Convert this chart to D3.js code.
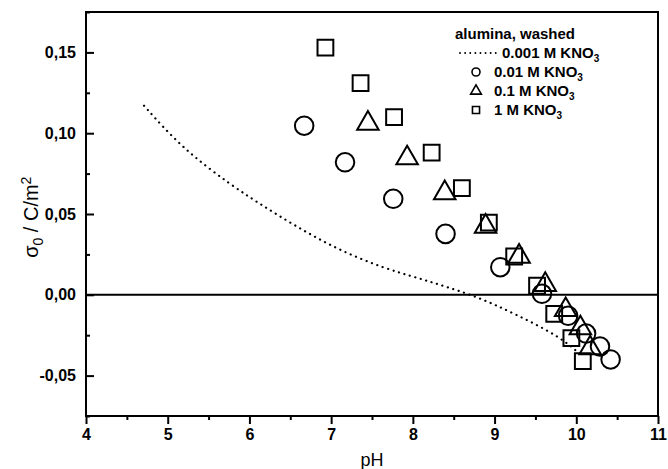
<!DOCTYPE html>
<html>
<head>
  <style>
    body, html { margin: 0; padding: 0; background: #fff; }
    text { font-family: "Liberation Sans", Arial, sans-serif; }
  </style>
</head>
<body>
<svg id="svg" width="668" height="469"></svg>
<script src="https://d3js.org/d3.v7.min.js"></script>
<script>
  // 0.001 M KNO3 model curve (dotted)
  const dotted = [[4.71, 0.117], [5.17, 0.091], [5.77, 0.068], [6.24, 0.0526], [6.70, 0.0385],
    [7.13, 0.027], [7.64, 0.0165], [8.09, 0.0100], [8.29, 0.0068], [8.78, -0.001],
    [9.23, -0.0113], [9.80, -0.0258], [10.05, -0.037]]
  // 0.01 M KNO3
  const circles = [[6.67, 0.1046], [7.17, 0.082], [7.76, 0.0594], [8.40, 0.0377], [9.07, 0.0171],
    [9.58, 0.0006], [9.90, -0.013], [10.12, -0.024], [10.29, -0.032], [10.42, -0.040]]
  // 0.1 M KNO3
  const triangles = [[7.45, 0.106], [7.93, 0.0846], [8.39, 0.063], [8.89, 0.0423], [9.30, 0.0237],
    [9.62, 0.0062], [9.87, -0.0093], [10.05, -0.0206], [10.17, -0.033]]
  // 1 M KNO3
  const squares = [[6.93, 0.153], [7.36, 0.131], [7.77, 0.110], [8.23, 0.088], [8.60, 0.066],
    [8.93, 0.0447], [9.24, 0.0237], [9.52, 0.0056], [9.73, -0.0118], [9.94, -0.0268], [10.08, -0.041]]

  const xTicks = [4, 5, 6, 7, 8, 9, 10, 11]
  const yTicks = [-0.05, 0, 0.05, 0.10, 0.15]
  const legendLabels = ["0.001 M KNO", "0.01 M KNO", "0.1 M KNO", "1 M KNO"]

  const L = 86, R = 658, T = 12, B = 416
  const svg = d3.select("#svg")

  const x = d3.scaleLinear().domain([4, 11]).range([L, R])
  const y = d3.scaleLinear().domain([-0.075, 0.175]).range([B, T])

  const fmt = d => d3.format(".2f")(d).replace(".", ",").replace("\u2212", "-")

  // frame
  svg.append("rect")
    .attr("x", L).attr("y", T).attr("width", R - L).attr("height", B - T)
    .attr("fill", "none").attr("stroke", "#000").attr("stroke-width", 2)

  // zero line
  svg.append("line")
    .attr("x1", L).attr("x2", R).attr("y1", y(0)).attr("y2", y(0))
    .attr("stroke", "#000").attr("stroke-width", 2)

  // x axis (ticks outward)
  const xAxis = svg.append("g").attr("transform", `translate(0,${B})`)
  xAxis.call(d3.axisBottom(x).tickValues(d3.range(4.5, 11, 1)).tickSize(4).tickFormat(""))
  xAxis.call(g => g.append("g").call(d3.axisBottom(x).tickValues(xTicks).tickSize(8).tickPadding(5).tickFormat(d3.format("d"))))
  xAxis.selectAll(".domain").remove()
  xAxis.selectAll("line").attr("stroke-width", 2)
  xAxis.selectAll("text").attr("font-size", 16).attr("font-weight", "bold").attr("fill", "#000")

  // y axis (ticks inward)
  const yAxis = svg.append("g").attr("transform", `translate(${L},0)`)
  yAxis.call(d3.axisRight(y).tickValues(d3.range(-0.075, 0.176, 0.05)).tickSize(4).tickFormat(""))
  yAxis.call(g => g.append("g").call(d3.axisRight(y).tickValues(yTicks).tickSize(8).tickFormat(fmt)))
  yAxis.selectAll(".domain").remove()
  yAxis.selectAll("line").attr("stroke-width", 2)
  yAxis.selectAll("text")
    .attr("x", -10).attr("text-anchor", "end")
    .attr("font-size", 16).attr("font-weight", "bold").attr("fill", "#000")

  // axis titles
  svg.append("text")
    .attr("x", x(7.5)).attr("y", 466).attr("text-anchor", "middle")
    .attr("font-size", 18).text("pH")

  const yt = svg.append("text")
    .attr("transform", `translate(38,${y(0.048)}) rotate(-90)`)
    .attr("text-anchor", "middle").attr("font-size", 20)
  yt.append("tspan").text("σ")
  yt.append("tspan").attr("font-size", 14).attr("dy", 5).text("0")
  yt.append("tspan").attr("dy", -5).text(" / C/m")
  yt.append("tspan").attr("font-size", 14).attr("dy", -7).text("2")

  // dotted curve
  const line = d3.line().x(d => x(d[0])).y(d => y(d[1])).curve(d3.curveBasis)
  svg.append("path")
    .attr("d", line(dotted))
    .attr("fill", "none").attr("stroke", "#000").attr("stroke-width", 2.2)
    .attr("stroke-dasharray", "0.1 5.6").attr("stroke-linecap", "round")

  const sym = {
    circle: d3.symbol().type(d3.symbolCircle).size(270),
    triangle: d3.symbol().type(d3.symbolTriangle).size(200),
    square: d3.symbol().type(d3.symbolSquare).size(250)
  }

  function drawPoints(data, shape) {
    svg.append("g").selectAll("path").data(data).join("path")
      .attr("d", sym[shape]())
      .attr("transform", d => `translate(${x(d[0])},${y(d[1])})`)
      .attr("fill", "none").attr("stroke", "#000").attr("stroke-width", 2)
  }
  drawPoints(squares, "square")
  drawPoints(triangles, "triangle")
  drawPoints(circles, "circle")

  // legend
  const lg = svg.append("g").attr("font-size", 15).attr("font-weight", "bold")
  lg.append("text").attr("x", 455).attr("y", 39).text("alumina, washed")

  const rows = [53, 72, 91, 110]
  lg.append("line").attr("x1", 460).attr("x2", 500).attr("y1", rows[0]).attr("y2", rows[0])
    .attr("stroke", "#000").attr("stroke-width", 1.8)
    .attr("stroke-dasharray", "0.1 5").attr("stroke-linecap", "round")

  const small = {
    circle: d3.symbol().type(d3.symbolCircle).size(50),
    triangle: d3.symbol().type(d3.symbolTriangle).size(50),
    square: d3.symbol().type(d3.symbolSquare).size(50)
  }
  ;["circle", "triangle", "square"].forEach((s, i) => {
    lg.append("path").attr("d", small[s]())
      .attr("transform", `translate(476,${rows[i + 1]})`)
      .attr("fill", "none").attr("stroke", "#000").attr("stroke-width", 1.6)
  })

  legendLabels.forEach((t, i) => {
    const tx = lg.append("text").attr("x", i === 0 ? 502 : 494).attr("y", rows[i] + 5)
    tx.append("tspan").text(t)
    tx.append("tspan").attr("font-size", 10).attr("dy", 4).text("3")
  })
</script>
</body>
</html>
